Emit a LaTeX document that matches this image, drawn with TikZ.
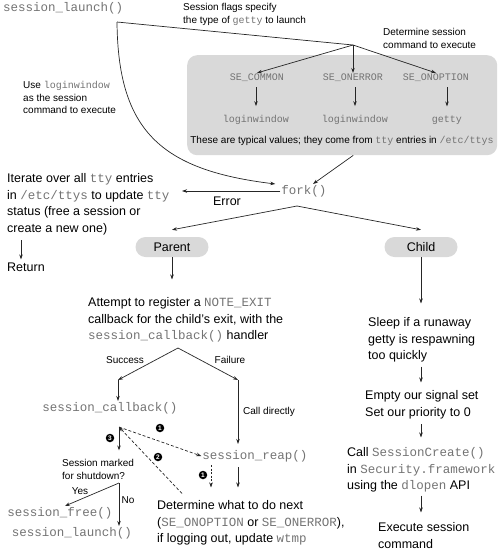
\documentclass[tikz,border=0pt]{standalone}
\usepackage{fontspec}
\setmainfont{Liberation Sans}
\setmonofont{Liberation Mono}
\usetikzlibrary{arrows.meta}
\definecolor{codegray}{gray}{0.45}
\definecolor{boxgray}{gray}{0.85}
\newcommand\cd[1]{{\ttfamily\color{codegray}#1}}
\newcommand\bigf{\fontsize{12.5}{16.5}\selectfont}
\newcommand\smallf{\fontsize{10}{12.5}\selectfont}
\begin{document}
\begin{tikzpicture}[x=1pt,y=-1pt,
  line/.style={draw=black!85, line width=0.7pt},
  arr/.style={line, -{Stealth[length=5pt,width=3.5pt]}},
  big/.style={font=\bigf, inner sep=0pt, align=left},
  small/.style={font=\smallf, inner sep=0pt, align=left},
  code/.style={font=\bigf\ttfamily, text=codegray, inner sep=1pt},
  boxcode/.style={font=\smallf\ttfamily, text=codegray, inner sep=1pt},
  pill/.style={fill=boxgray, rounded corners=10pt, minimum width=73pt, minimum height=20pt, inner sep=0pt, font=\bigf},
  badge/.style={circle, fill=black, text=white, inner sep=0pt, minimum size=8.5pt, font=\bfseries\fontsize{6.5}{6.5}\selectfont},
  dsh/.style={dash pattern=on 3pt off 2pt},
  dot/.style={dash pattern=on 2pt off 1.5pt}
]
\useasboundingbox (0,0) rectangle (500,550);

% grey box
\node[fill=boxgray, rounded corners=10pt, minimum width=310pt, minimum height=100pt, inner sep=0pt, anchor=north west] (box) at (187,55) {};

% top texts
\node[code, anchor=west, inner sep=0pt] (launch) at (3,8) {session\_launch()};
\node[small, anchor=north west] (flags) at (183,3.4) {Session flags specify\\the type of \cd{getty} to launch};
\node[small, anchor=north west] (uselw) at (23,81.4) {Use \cd{loginwindow}\\as the session\\command to execute};
\node[small, anchor=north west] (detsess) at (383,28.4) {Determine session\\command to execute};

\node[boxcode] (secommon) at (257,78) {SE\_COMMON};
\node[boxcode] (seonerror) at (353,78) {SE\_ONERROR};
\node[boxcode] (seonoption) at (436,78) {SE\_ONOPTION};
\node[boxcode] (lw1) at (256,120) {loginwindow};
\node[boxcode] (lw2) at (355,120) {loginwindow};
\node[boxcode] (getty) at (447,120) {getty};
\node[small] (typical) at (342,141) {These are typical values; they come from \cd{tty} entries in \cd{/etc/ttys}};

\coordinate (j0) at (117,22);
\coordinate (b1) at (353,45);
\draw[line] (j0) -- (b1);
\draw[arr] (b1) -- (secommon.north);
\draw[arr] (b1) -- (seonerror.north);
\draw[arr] (b1) -- (seonoption.north);
\draw[arr, shorten <=4pt, shorten >=8pt] (lw1.north |- secommon.south) -- (lw1.north);
\draw[arr, shorten <=4pt, shorten >=8pt] (lw2.north |- seonerror.south) -- (lw2.north);
\draw[arr, shorten <=4pt, shorten >=8pt] (getty.north |- seonoption.south) -- (getty.north);

% fork
\node[code] (fork) at (304,191) {fork()};
\draw[arr] (j0) .. controls (118,130) and (160,170) .. ([xshift=-5pt]fork.north west);
\draw[arr] ([xshift=11pt]box.south) -- ([xshift=9pt]fork.north);

\node[big, anchor=north west] (iter) at (7,173.5) {Iterate over all \cd{tty} entries\\in \cd{/etc/ttys} to update \cd{tty}\\status (free a session or\\create a new one)};
\coordinate (errtip) at (182,191);
\draw[arr] (fork.west) -- (errtip);
\node[big] (err) at (227,201) {Error};
\node[big, anchor=west] (ret) at (7,267) {Return};
\draw[arr, shorten <=5pt, shorten >=3pt] (iter.south -| 21,0) -- (ret.north -| 21,0);

\node[pill] (parent) at (172,247) {Parent};
\node[pill] (child) at (421,247) {Child};
\coordinate (forkb) at (297,206);
\draw[arr] (forkb) -- ([yshift=7pt]parent.north);
\draw[arr] (forkb) -- ([yshift=7pt]child.north);

% parent side
\node[big, anchor=north west] (attempt) at (88,297.5) {Attempt to register a \cd{NOTE\_EXIT}\\callback for the child's exit, with the\\\cd{session\_callback()} handler};
\draw[arr, shorten >=18pt] (parent.south) -- (parent.south |- attempt.north);

\coordinate (b2) at (178,348);
\coordinate (sl) at (118,380);
\coordinate (sr) at (238,380);
\draw[arr] (b2) -- (sl);
\draw[arr] (b2) -- (sr);
\node[small] (success) at (125,360) {Success};
\node[small] (failure) at (230,360) {Failure};

\node[code] (callback) at (110,408) {session\_callback()};
\node[code] (reap) at (255,456) {session\_reap()};
\draw[arr] (sl) -- (sl |- callback.north);
\draw[arr, shorten >=5pt] (sr) -- (sr |- reap.north);
\node[small, anchor=west] (calldir) at (243,412) {Call directly};

\node[big, anchor=north west] (determine) at (157,500.5) {Determine what to do next\\(\cd{SE\_ONOPTION} or \cd{SE\_ONERROR}),\\if logging out, update \cd{wtmp}};

\coordinate (cp) at (119,427);
\draw[arr, dsh] (cp) -- (reap.west);
\draw[arr, dsh] ([xshift=25pt,yshift=7pt]determine.north west) -- (cp);
\node[small, anchor=north west] (marked) at (62,459.4) {Session marked\\for shutdown?};
\draw[arr, shorten >=9pt] (cp) -- (cp |- marked.north);

\node[badge] (bdg1) at (160,428) {1};
\node[badge] (bdg2) at (158,457) {2};
\node[badge] (bdg3) at (110,438) {3};
\node[badge] (bdg4) at (203,475) {1};

\draw[arr, shorten <=4pt, shorten >=13pt] (reap.south -| sr) -- (determine.north -| sr);
\draw[arr, dot, shorten <=2pt, shorten >=13pt] (reap.south -| 211,0) -- (determine.north -| 211,0);

\coordinate (b3) at (119,483);
\node[code] (sfree) at (60,513) {session\_free()};
\node[code] (slaunch) at (72,533) {session\_launch()};
\draw[arr] (b3) -- ([xshift=5pt]sfree.north);
\draw[arr] (b3) -- (b3 |- slaunch.north);
\node[small] (yes) at (80,491) {Yes};
\node[small] (no) at (128,500) {No};

% child side
\node[big, anchor=north west] (sleep) at (368,317.5) {Sleep if a runaway\\getty is respawning\\too quickly};
\node[big, anchor=north west] (empty) at (365,390.5) {Empty our signal set\\Set our priority to 0};
\node[big, anchor=north west] (callsc) at (347,447.5) {Call \cd{SessionCreate()}\\in \cd{Security.framework}\\using the \cd{dlopen} API};
\node[big, anchor=north west] (exec) at (378,522.5) {Execute session\\command};
\draw[arr, shorten >=14pt] (child.south) -- (child.south |- sleep.north);
\draw[arr, shorten <=4pt, shorten >=8pt] (sleep.south -| child.south) -- (empty.north -| child.south);
\draw[arr, shorten <=5pt, shorten >=10pt] (empty.south -| child.south) -- (callsc.north -| child.south);
\draw[arr, shorten <=3pt, shorten >=10pt] (callsc.south -| child.south) -- (exec.north -| child.south);
\end{tikzpicture}
\end{document}
